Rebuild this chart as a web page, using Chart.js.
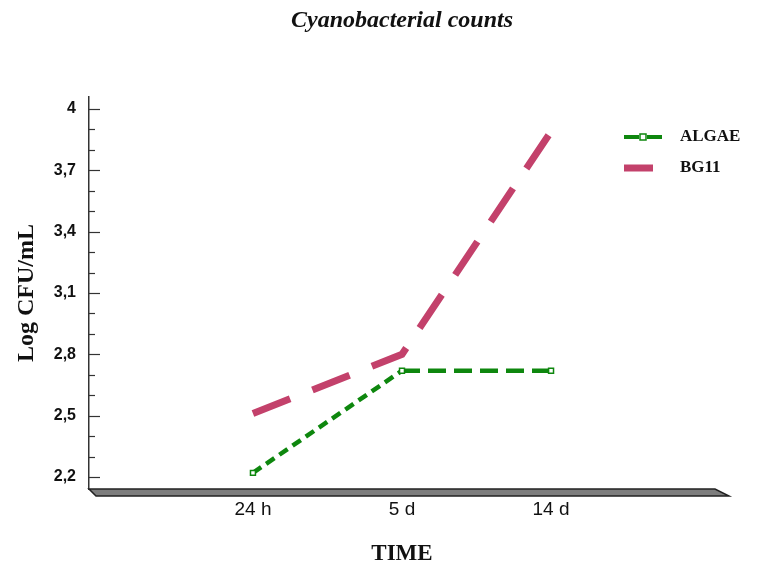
<!DOCTYPE html>
<html>
<head>
<meta charset="utf-8">
<script src="https://cdn.jsdelivr.net/npm/chart.js@4.4.1/dist/chart.umd.min.js"></script>
<style>
  html, body { margin: 0; padding: 0; background: #fff; }
  #wrap { width: 763px; height: 569px; }
</style>
</head>
<body>
<div id="wrap"><canvas id="countsChart" width="763" height="569"></canvas></div>
<script>
// Sampling times and log counts per medium
const timePoints = ['24 h', '5 d', '14 d'];
const algaeCounts = [2.22, 2.72, 2.72];
const bg11Counts = [2.51, 2.80, 3.89];

// Y axis tick values and their (comma decimal) labels
const yTickValues = [2.2, 2.5, 2.8, 3.1, 3.4, 3.7, 4.0];
const yTickLabels = ['2,2', '2,5', '2,8', '3,1', '3,4', '3,7', '4'];

const GREEN = '#0e870e';
const PINK = '#c3416b';
const SERIF = '"Liberation Serif", "Times New Roman", serif';
const SANS = '"Liberation Sans", Arial, sans-serif';

function toPoints(values) {
    return values.map((v, i) => ({ x: i + 1, y: v }));
}

// Inward y ticks, the grey 3D floor and the legend box
const decorPlugin = {
    id: 'decor',
    afterDraw(chart) {
        const ctx = chart.ctx;
        const area = chart.chartArea;
        const yScale = chart.scales.y;

        ctx.save();
        ctx.strokeStyle = '#333';
        ctx.lineWidth = 1.2;
        for (let t = 22; t <= 40; t++) {
            const y = Math.round(yScale.getPixelForValue(t / 10)) + 0.5;
            const major = (t - 22) % 3 === 0;
            ctx.beginPath();
            ctx.moveTo(area.left, y);
            ctx.lineTo(area.left + (major ? 11 : 6), y);
            ctx.stroke();
        }

        // floor slab under the plot
        const fy = area.bottom;
        ctx.beginPath();
        ctx.moveTo(area.left, fy);
        ctx.lineTo(area.right, fy);
        ctx.lineTo(area.right + 14, fy + 7);
        ctx.lineTo(area.left + 7, fy + 7);
        ctx.closePath();
        ctx.fillStyle = '#7d7d7d';
        ctx.fill();
        ctx.lineWidth = 1.5;
        ctx.strokeStyle = '#222';
        ctx.stroke();

        // legend
        ctx.font = 'bold 17px ' + SERIF;
        ctx.textBaseline = 'middle';
        ctx.fillStyle = '#111';

        const ly1 = 137;
        ctx.strokeStyle = GREEN;
        ctx.lineWidth = 4;
        ctx.beginPath();
        ctx.moveTo(624, ly1); ctx.lineTo(639, ly1);
        ctx.moveTo(647, ly1); ctx.lineTo(662, ly1);
        ctx.stroke();
        ctx.lineWidth = 1.5;
        ctx.fillStyle = '#fff';
        ctx.fillRect(640, ly1 - 3, 6, 6);
        ctx.strokeRect(640, ly1 - 3, 6, 6);
        ctx.fillStyle = '#111';
        ctx.fillText('ALGAE', 680, ly1);

        const ly2 = 168;
        ctx.strokeStyle = PINK;
        ctx.lineWidth = 7;
        ctx.beginPath();
        ctx.moveTo(624, ly2); ctx.lineTo(653, ly2);
        ctx.stroke();
        ctx.fillText('BG11', 680, ly2);
        ctx.restore();
    }
};

new Chart(document.getElementById('countsChart'), {
    type: 'line',
    data: {
        datasets: [
            {
                label: 'ALGAE',
                data: toPoints(algaeCounts),
                borderColor: GREEN,
                borderWidth: 4.5,
                borderCapStyle: 'butt',
                segment: {
                    borderDash: c => c.p0DataIndex === 0 ? [10, 6] : [18, 8]
                },
                pointStyle: 'rect',
                pointRadius: 3.5,
                pointBorderWidth: 1.5,
                pointBorderColor: GREEN,
                pointBackgroundColor: '#fff',
                tension: 0
            },
            {
                label: 'BG11',
                data: toPoints(bg11Counts),
                borderColor: PINK,
                borderWidth: 7,
                borderCapStyle: 'butt',
                borderDash: [40, 24],
                pointRadius: 0,
                tension: 0
            }
        ]
    },
    options: {
        responsive: false,
        animation: false,
        layout: { padding: { left: 0, right: 48, top: 0, bottom: 0 } },
        plugins: {
            legend: { display: false },
            tooltip: { enabled: false },
            title: {
                display: true,
                fullSize: false,
                text: 'Cyanobacterial counts',
                color: '#111',
                font: { family: SERIF, size: 24, style: 'italic', weight: 'bold' },
                padding: { top: 6, bottom: 62.2 }
            }
        },
        scales: {
            x: {
                type: 'linear',
                min: -0.1,
                max: 4.1,
                afterBuildTicks: s => { s.ticks = timePoints.map((_, i) => ({ value: i + 1 })); },
                afterFit: s => { s.height = 80; },
                grid: { display: false, drawTicks: false },
                border: { display: false },
                ticks: {
                    padding: 9,
                    color: '#111',
                    font: { family: SANS, size: 19 },
                    callback: v => timePoints[v - 1]
                },
                title: {
                    display: true,
                    text: 'TIME',
                    color: '#111',
                    font: { family: SERIF, size: 23, weight: 'bold' },
                    padding: { top: 0, bottom: 1 }
                }
            },
            y: {
                min: 2.141,
                max: 4.059,
                afterBuildTicks: s => { s.ticks = yTickValues.map(v => ({ value: v })); },
                afterFit: s => { s.width = 89; },
                grid: { display: false, drawTicks: false },
                border: { display: true, color: '#333', width: 1.5 },
                ticks: {
                    padding: 13,
                    color: '#111',
                    font: { family: SANS, size: 16, weight: 'bold' },
                    callback: v => yTickLabels[yTickValues.indexOf(v)]
                },
                title: {
                    display: true,
                    text: 'Log CFU/mL',
                    color: '#111',
                    font: { family: SERIF, size: 24, weight: 'bold' },
                    padding: { top: 12, bottom: 0 }
                }
            }
        }
    },
    plugins: [decorPlugin]
});
</script>
</body>
</html>
